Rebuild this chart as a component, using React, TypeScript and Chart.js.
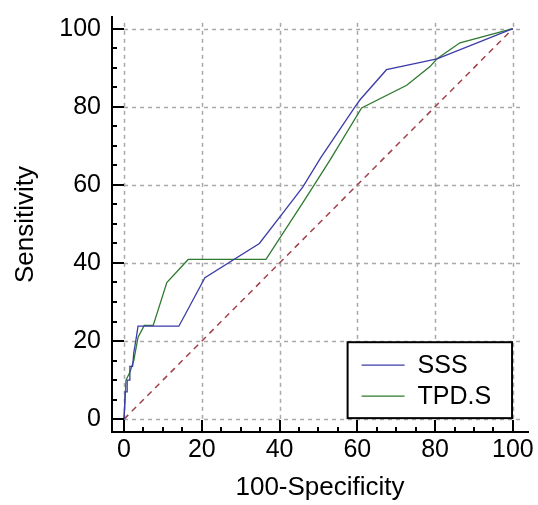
import React, { useEffect, useRef } from 'react';
import { Chart, registerables } from 'chart.js';

Chart.register(...registerables);

const seriesLabels = ['SSS', 'TPD.S'];
const sssX = [0, 0.3, 0.8, 0.8, 1.5, 1.5, 2.2, 2.5, 3, 3.6, 14.1, 20.8, 34.8, 43.5, 46, 50.6, 59.4, 60.7, 67.5, 80.5, 100];
const sssY = [0, 7, 7, 10, 10, 13.5, 13.5, 17, 20, 23.8, 23.8, 36.2, 45, 56.2, 59.5, 67, 80, 81.8, 89.5, 92.3, 100];
const tpdX = [0, 0.5, 1.5, 2.5, 3.6, 5.2, 7.5, 11, 16.5, 36.5, 46.5, 53, 61.1, 72.7, 78.7, 80.5, 86.4, 100];
const tpdY = [0, 10, 12, 15, 21, 24, 24, 35, 40.9, 40.9, 56.2, 66.4, 79.7, 85.5, 90.3, 92.3, 96.4, 100];
const refX = [0, 100];
const refY = [0, 100];
const majorTicks = [0, 20, 40, 60, 80, 100];
const minorTicks = [5, 10, 15, 25, 30, 35, 45, 50, 55, 65, 70, 75, 85, 90, 95];
const xTitle = '100-Specificity';
const yTitle = 'Sensitivity';

const colors = { sss: '#3c3ca8', tpd: '#2e7a2e', ref: '#a0404a' };
const FONT = "'Liberation Sans', Arial, sans-serif";

const toPts = (xs: number[], ys: number[]) => xs.map((x, i) => ({ x, y: ys[i] }));

const decorPlugin = {
  id: 'decor',
  beforeDatasetsDraw(chart: any) {
    const { ctx } = chart;
    const xs = chart.scales.x;
    const ys = chart.scales.y;
    ctx.save();
    ctx.strokeStyle = '#a8a8a8';
    ctx.lineWidth = 1.5;
    ctx.setLineDash([4, 4]);
    const gTop = ys.getPixelForValue(101.5);
    const gRight = xs.getPixelForValue(102);
    majorTicks.forEach((v) => {
      const px = Math.round(xs.getPixelForValue(v)) + 0.5;
      ctx.beginPath();
      ctx.moveTo(px, gTop);
      ctx.lineTo(px, ys.getPixelForValue(0));
      ctx.stroke();
      const py = Math.round(ys.getPixelForValue(v)) + 0.5;
      ctx.beginPath();
      ctx.moveTo(xs.getPixelForValue(0), py);
      ctx.lineTo(gRight, py);
      ctx.stroke();
    });
    ctx.restore();
  },
  afterDraw(chart: any) {
    const { ctx, chartArea } = chart;
    const xs = chart.scales.x;
    const ys = chart.scales.y;
    ctx.save();
    ctx.strokeStyle = '#000';
    ctx.lineWidth = 2;
    ctx.setLineDash([]);
    const drawTicks = (vals: number[], len: number) => {
      vals.forEach((v) => {
        const px = Math.round(xs.getPixelForValue(v));
        ctx.beginPath();
        ctx.moveTo(px, chartArea.bottom);
        ctx.lineTo(px, chartArea.bottom - len);
        ctx.stroke();
        const py = Math.round(ys.getPixelForValue(v));
        ctx.beginPath();
        ctx.moveTo(chartArea.left, py);
        ctx.lineTo(chartArea.left + len, py);
        ctx.stroke();
      });
    };
    drawTicks(majorTicks, 12);
    drawTicks(minorTicks, 5);

    // legend
    const lx1 = xs.getPixelForValue(57.5);
    const lx2 = xs.getPixelForValue(99.8);
    const ly1 = ys.getPixelForValue(19.7);
    const ly2 = ys.getPixelForValue(0.25);
    ctx.fillStyle = '#fff';
    ctx.fillRect(lx1, ly1, lx2 - lx1, ly2 - ly1);
    ctx.lineWidth = 2;
    ctx.strokeStyle = '#000';
    ctx.strokeRect(lx1, ly1, lx2 - lx1, ly2 - ly1);
    const ds = chart.data.datasets;
    const rowOffsets = [23, 54];
    for (let i = 0; i < 2; i++) {
      const cy = ly1 + rowOffsets[i];
      ctx.strokeStyle = ds[i].borderColor;
      ctx.lineWidth = 1.3;
      ctx.beginPath();
      ctx.moveTo(lx1 + 14, cy);
      ctx.lineTo(lx1 + 57, cy);
      ctx.stroke();
      ctx.fillStyle = '#000';
      ctx.font = `25px ${FONT}`;
      ctx.textBaseline = 'middle';
      ctx.textAlign = 'left';
      ctx.fillText(ds[i].label, lx1 + 70, cy + 1);
    }
    ctx.restore();
  },
};

export default function App() {
  const ref = useRef<HTMLCanvasElement | null>(null);
  useEffect(() => {
    if (!ref.current) return;
    const chart = new Chart(ref.current, {
      type: 'line',
      data: {
        datasets: [
          {
            label: seriesLabels[0],
            data: toPts(sssX, sssY),
            borderColor: colors.sss,
            borderWidth: 1.3,
            pointRadius: 0,
            tension: 0,
          },
          {
            label: seriesLabels[1],
            data: toPts(tpdX, tpdY),
            borderColor: colors.tpd,
            borderWidth: 1.3,
            pointRadius: 0,
            tension: 0,
          },
          {
            label: 'ref',
            data: toPts(refX, refY),
            borderColor: colors.ref,
            borderWidth: 1.5,
            borderDash: [6, 5],
            pointRadius: 0,
            tension: 0,
          },
        ],
      },
      options: {
        responsive: false,
        animation: false,
        layout: { padding: { top: 17, right: 10, left: 0, bottom: 0 } },
        plugins: { legend: { display: false }, tooltip: { enabled: false } },
        scales: {
          x: {
            type: 'linear',
            min: -3.1,
            max: 103.9,
            afterBuildTicks: (s: any) => {
              s.ticks = majorTicks.map((v) => ({ value: v }));
            },
            afterFit: (s: any) => {
              s.height = 73;
              s.paddingLeft = 0;
              s.paddingRight = 0;
              s.paddingTop = 0;
              s.paddingBottom = 0;
            },
            grid: { display: false, drawTicks: false },
            border: { display: true, color: '#000', width: 2 },
            ticks: {
              color: '#000',
              font: { family: FONT, size: 25 },
              padding: 3,
              maxRotation: 0,
              autoSkip: false,
            },
            title: {
              display: true,
              text: xTitle,
              color: '#000',
              font: { family: FONT, size: 26 },
              padding: 2,
            },
          },
          y: {
            type: 'linear',
            min: -3.3,
            max: 103,
            afterBuildTicks: (s: any) => {
              s.ticks = majorTicks.map((v) => ({ value: v }));
            },
            afterFit: (s: any) => {
              s.width = 112;
              s.paddingLeft = 0;
              s.paddingRight = 0;
              s.paddingTop = 0;
              s.paddingBottom = 0;
            },
            grid: { display: false, drawTicks: false },
            border: { display: true, color: '#000', width: 2 },
            ticks: {
              color: '#000',
              font: { family: FONT, size: 25 },
              padding: 11,
              autoSkip: false,
            },
            title: {
              display: true,
              text: yTitle,
              color: '#000',
              font: { family: FONT, size: 26 },
              padding: 10,
            },
          },
        },
      },
      plugins: [decorPlugin],
    });
    return () => chart.destroy();
  }, []);
  return (
    <div style={{ position: 'absolute', left: 0, top: 0, width: 538, height: 505, background: '#fff' }}>
      <canvas ref={ref} width={538} height={505} />
    </div>
  );
}
